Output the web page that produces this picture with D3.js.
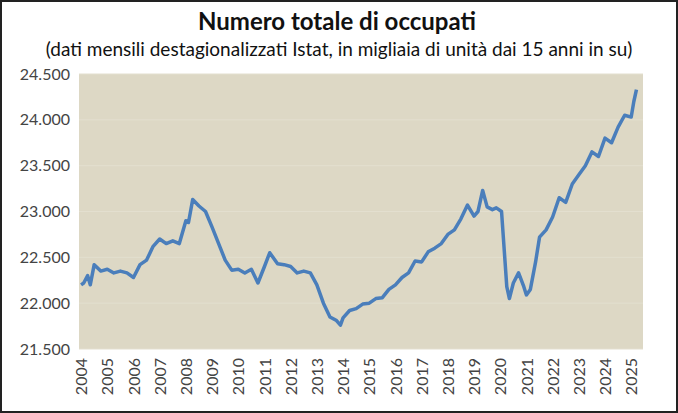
<!DOCTYPE html>
<html><head><meta charset="utf-8">
<script src="https://cdn.jsdelivr.net/npm/d3@7"></script>
<style>
body{margin:0;background:#fff;}
svg{display:block;font-family:Lato,"Open Sans",sans-serif;}
</style></head><body>
<div class="chart"></div>
<script>
// Numero totale di occupati (migliaia)
var years = [2004,2004.1,2004.25,2004.35,2004.5,2004.75,2005,2005.25,2005.5,2005.75,2006,2006.25,2006.5,2006.75,2007,2007.25,2007.5,2007.75,2008,2008.1,2008.26,2008.5,2008.75,2009,2009.25,2009.5,2009.75,2010,2010.25,2010.5,2010.75,2011,2011.2,2011.5,2011.75,2012,2012.25,2012.5,2012.75,2013,2013.25,2013.5,2013.75,2013.9,2014,2014.25,2014.5,2014.75,2015,2015.25,2015.5,2015.75,2016,2016.25,2016.5,2016.75,2017,2017.25,2017.5,2017.75,2018,2018.25,2018.5,2018.75,2019,2019.15,2019.33,2019.5,2019.7,2019.85,2020.05,2020.25,2020.35,2020.5,2020.7,2020.9,2021,2021.15,2021.35,2021.5,2021.75,2022,2022.25,2022.5,2022.75,2023,2023.25,2023.5,2023.75,2024,2024.25,2024.5,2024.75,2025,2025.1,2025.2];
var occupati = [22200,22220,22300,22200,22420,22350,22370,22330,22350,22330,22280,22420,22470,22620,22700,22650,22680,22650,22900,22880,23130,23060,23000,22830,22650,22470,22360,22370,22330,22370,22220,22400,22550,22430,22420,22400,22330,22350,22330,22200,22000,21850,21810,21760,21840,21920,21940,21990,22000,22050,22060,22150,22200,22280,22330,22460,22450,22560,22600,22650,22750,22800,22920,23070,22950,23000,23230,23050,23020,23040,23000,22180,22050,22220,22330,22180,22090,22150,22450,22720,22800,22940,23150,23100,23300,23400,23500,23650,23600,23800,23750,23920,24050,24030,24200,24330];
var yTicks = [21500,22000,22500,23000,23500,24000,24500];
var xTicks = d3.range(2004, 2026);

var svgWidth = 678, svgHeight = 413;
var margin = {top: 74, right: 35, bottom: 64, left: 79};
var width = svgWidth - margin.left - margin.right;
var height = svgHeight - margin.top - margin.bottom;

var svg = d3.select(".chart").append("svg")
  .attr("width", svgWidth).attr("height", svgHeight);

svg.append("rect").attr("x", 1).attr("y", 1)
  .attr("width", svgWidth - 2).attr("height", svgHeight - 2)
  .attr("fill", "#fff").attr("stroke", "#222").attr("stroke-width", 2);

svg.append("text").attr("x", svgWidth / 2 - 2).attr("y", 30)
  .attr("text-anchor", "middle").attr("font-size", 24).attr("font-weight", "bold")
  .attr("fill", "#111").text("Numero totale di occupati");
svg.append("text").attr("x", svgWidth / 2).attr("y", 56)
  .attr("text-anchor", "middle").attr("font-size", 19)
  .attr("fill", "#111").text("(dati mensili destagionalizzati Istat, in migliaia di unità dai 15 anni in su)");

var chart = svg.append("g").attr("transform", `translate(${margin.left},${margin.top})`);

var x = d3.scaleLinear().domain([2003.92, 2025.45]).range([0, width]);
var y = d3.scaleLinear().domain([21500, 24500]).range([height, 0]);

chart.append("rect").attr("width", width).attr("height", height).attr("fill", "#ddd8c5");

chart.selectAll(".grid").data(yTicks).enter().append("line")
  .attr("x1", 0).attr("x2", width)
  .attr("y1", function(d) { return y(d); }).attr("y2", function(d) { return y(d); })
  .attr("stroke", "#e3dfcf").attr("stroke-width", 1);

var fmt = function(d) { return d3.format(",")(d).replace(",", "."); };

var yAxis = chart.append("g").call(d3.axisLeft(y).tickValues(yTicks).tickFormat(fmt).tickSize(0).tickPadding(9));
yAxis.select(".domain").remove();
yAxis.selectAll("text").attr("font-size", 16).attr("fill", "#444").attr("font-family", "Lato,sans-serif");

var xAxis = chart.append("g").attr("transform", `translate(0,${height})`)
  .call(d3.axisBottom(x).tickValues(xTicks).tickFormat(d3.format("d")).tickSize(0));
xAxis.select(".domain").remove();
xAxis.selectAll("text")
  .attr("font-size", 16).attr("fill", "#444").attr("font-family", "Lato,sans-serif")
  .attr("transform", "rotate(-90)").attr("text-anchor", "end")
  .attr("x", -9).attr("y", 0).attr("dy", "0.35em");

var data = years.map(function(d, i) { return {t: d, v: occupati[i]}; });
chart.append("path").datum(data)
  .attr("fill", "none").attr("stroke", "#4a7ebb").attr("stroke-width", 3.5)
  .attr("stroke-linejoin", "round")
  .attr("d", d3.line().x(function(d) { return x(d.t); }).y(function(d) { return y(d.v); }));
</script>
</body></html>
